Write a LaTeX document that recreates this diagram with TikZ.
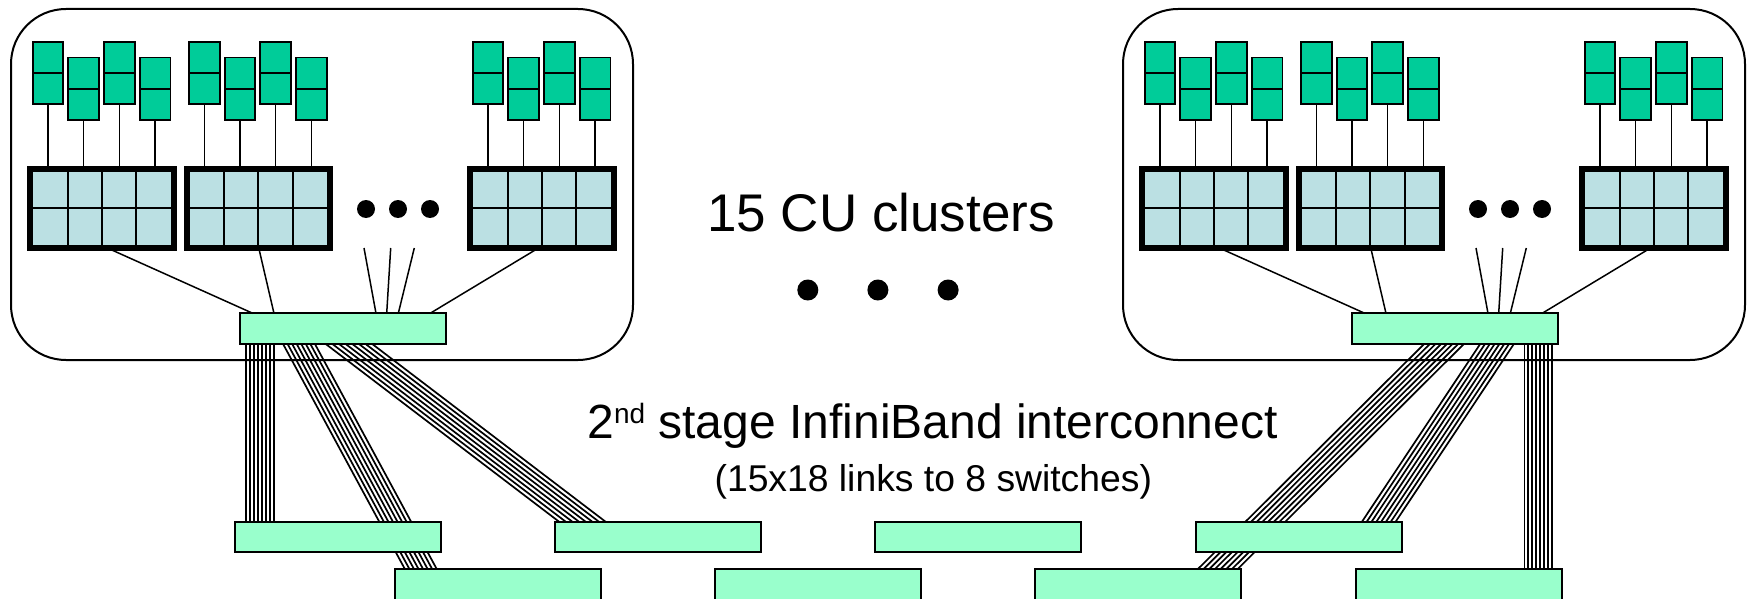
\documentclass[tikz,border=0pt]{standalone}
\usepackage{fontspec}
\setmainfont{Liberation Sans}
\usetikzlibrary{calc}
\pgfdeclarelayer{bg}
\pgfsetlayers{bg,main}
\definecolor{cardgreen}{HTML}{00CC99}
\definecolor{cellblue}{HTML}{BBE0E3}
\definecolor{swmint}{HTML}{99FFCC}
\tikzset{
  clusterbox/.style={draw, line width=2pt, rounded corners=55pt, minimum width=622pt, minimum height=351pt, inner sep=0pt, outer sep=0pt},
  card/.style={draw, line width=1.8pt, fill=cardgreen, minimum width=30.7pt, minimum height=62.3pt, inner sep=0pt, outer sep=0pt},
  chassis/.style={draw, line width=6pt, fill=cellblue, minimum width=143.4pt, minimum height=79pt, inner sep=0pt, outer sep=0pt},
  swbox/.style={draw, line width=2pt, fill=swmint, minimum width=206pt, minimum height=30.6pt, inner sep=0pt, outer sep=0pt},
  thinline/.style={line width=1.5pt},
  cellline/.style={line width=2pt, draw=black},
  busline/.style={line width=1.7pt},
  dotmark/.style={circle, fill=black, inner sep=0pt, minimum size=18pt},
  bigdot/.style={circle, fill=black, inner sep=0pt, minimum size=21pt},
}
\newcommand\drawcluster[2]{%
\begin{scope}[xshift=#2pt]
  \node[clusterbox] (#1box) at (322,184.5) {};
  \foreach \g/\gx in {1/0,2/156.3,3/440}{
    \node[chassis] (#1ch\g) at ({102+\gx},208.2) {};
    \foreach \d in {-34.35,0,34.35}
      \draw[cellline] ($(#1ch\g.center)+(\d,-36.5)$) -- ++(0,73);
    \draw[cellline] ($(#1ch\g.center)+(-68.7,0)$) -- ++(137.4,0);
    \foreach \k/\kx/\ky in {1/48/72.8,2/83.7/88.7,3/119.4/72.8,4/155.1/88.7}{
      \node[card] (#1k\g\k) at ({\kx+\gx},\ky) {};
      \draw[line width=1.8pt] (#1k\g\k.west) -- (#1k\g\k.east);
      \draw[thinline] (#1k\g\k.south) -- (#1k\g\k.south |- #1ch\g.north);
    }
  }
  \node[dotmark] (#1d1) at (366,209) {};
  \node[dotmark] (#1d2) at (398,209) {};
  \node[dotmark] (#1d3) at (430,209) {};
  \node[swbox] (#1sw) at (342.7,328.7) {};
  \coordinate (#1f1) at (364,248);
  \coordinate (#1f2) at (390.7,248);
  \coordinate (#1f3) at (414.3,248);
  \draw[thinline] ($(#1ch1.south)+(4.7,0)$) -- ($(#1sw.north west)+(13.3,0)$);
  \draw[thinline] ($(#1ch2.south)+(0.4,0)$) -- ($(#1sw.north west)+(34.3,0)$);
  \draw[thinline] (#1f1) -- ($(#1sw.north west)+(136.3,0)$);
  \draw[thinline] (#1f2) -- ($(#1sw.north west)+(147,0)$);
  \draw[thinline] (#1f3) -- ($(#1sw.north west)+(158.6,0)$);
  \draw[thinline] ($(#1ch3.south)+(-3,0)$) -- ($(#1sw.north west)+(190.3,0)$);
\end{scope}}
\newcommand\bundle[3]{%
  \foreach \i in {0,...,7}
    \draw[busline] ($(#1)+({(\i-3.5)*#3},0)$) -- ($(#2)+({(\i-3.5)*#3},0)$);}
\begin{document}
\begin{tikzpicture}[x=1pt,y=-1pt]
  \useasboundingbox (0,0) rectangle (1754,599);
  \clip (0,0) rectangle (1754,599);
  \drawcluster{L}{0}
  \drawcluster{R}{1112}
  \foreach \k in {1,...,4}
    \node[swbox] (s1\k) at ({337.8+(\k-1)*320.3},537) {};
  \foreach \k in {1,...,4}
    \node[swbox] (s2\k) at ({497.7+(\k-1)*320.3},584.7) {};
  \coordinate (LB1a) at ($(Lsw.south west)+(20.3,0)$);
  \coordinate (LB1b) at ($(s11.north west)+(25.2,0)$);
  \coordinate (LB2a) at ($(Lsw.south west)+(59.3,0)$);
  \coordinate (LB2b) at ($(s21.north west)+(26.3,0)$);
  \coordinate (LB3a) at ($(Lsw.south west)+(109.3,0)$);
  \coordinate (LB3b) at ($(s12.north west)+(27.2,0)$);
  \coordinate (RB1a) at ($(Rsw.south west)+(186.3,0)$);
  \coordinate (RB1b) at ($(s24.north west)+(182.4,0)$);
  \coordinate (RB2a) at ($(Rsw.south west)+(145.3,0)$);
  \coordinate (RB2b) at ($(s14.north west)+(183.1,0)$);
  \coordinate (RB3a) at ($(Rsw.south west)+(92.3,0)$);
  \coordinate (RB3b) at ($(s23.north west)+(182.1,0)$);
  \begin{pgfonlayer}{bg}
    \bundle{LB1a}{LB1b}{4.0}
    \bundle{LB2a}{LB2b}{4.55}
    \bundle{LB3a}{LB3b}{6.64}
    \bundle{RB1a}{RB1b}{3.9}
    \bundle{RB2a}{RB2b}{4.81}
    \bundle{RB3a}{RB3b}{5.68}
  \end{pgfonlayer}
  \node[font=\fontsize{53}{60}\selectfont, anchor=base, inner sep=0pt] (title) at (881,231.5) {15 CU clusters};
  \node[bigdot] (m1) at (807.8,290) {};
  \node[bigdot] (m2) at (877.9,290) {};
  \node[bigdot] (m3) at (948.1,290) {};
  \node[font=\fontsize{48}{50}\selectfont, anchor=base, inner sep=0pt] (stage) at (932.6,438.3) {2\raisebox{14.5pt}{\fontsize{28}{28}\selectfont nd} stage InfiniBand interconnect};
  \node[font=\fontsize{37.3}{40}\selectfont, anchor=base, inner sep=0pt] (links) at (933.3,491.7) {(15x18 links to 8 switches)};
\end{tikzpicture}
\end{document}
